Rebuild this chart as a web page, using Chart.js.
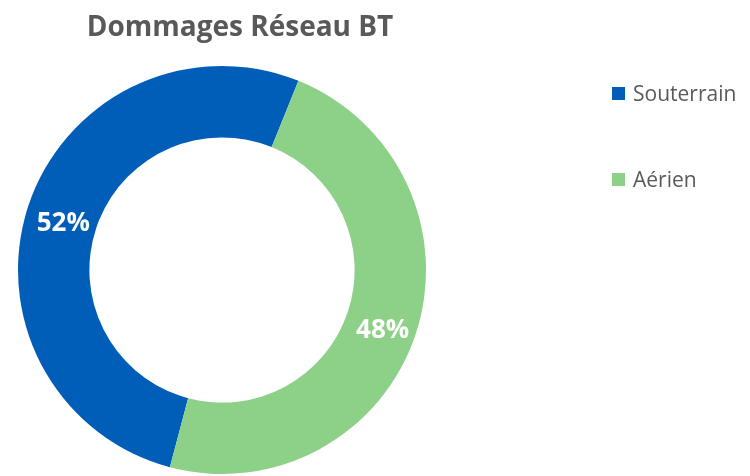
<!DOCTYPE html>
<html>
<head>
<meta charset="utf-8">
<script src="https://cdn.jsdelivr.net/npm/chart.js@4.4.1/dist/chart.umd.min.js"></script>
<style>
  body { margin: 0; background: #fff; font-family: "Open Sans", sans-serif; }
  #wrap { position: relative; width: 750px; height: 476px; }
  #title { position: absolute; left: 0; width: 480px; top: 6px; text-align: center;
           font-weight: bold; font-size: 28px; color: #595959; }
  #legend { position: absolute; left: 612px; top: 78px; font-size: 21px; color: #595959; }
  .item { display: flex; align-items: center; height: 30px; margin-bottom: 56px; }
  .box { width: 13px; height: 13px; margin-right: 8px; }
</style>
</head>
<body>
<div id="wrap">
  <canvas id="chart" width="750" height="476"></canvas>
  <div id="title"></div>
  <div id="legend"></div>
</div>
<script>
const TITLE = 'Dommages Réseau BT';
const categories = ['Souterrain', 'Aérien'];
const values = [52, 48];
const colors = ['#005EB8', '#8DD088'];

document.getElementById('title').textContent = TITLE;
let legendHtml = '';
categories.forEach((name, i) => {
    legendHtml += '<div class="item"><span class="box" style="background:' + colors[i] + '"></span>' + name + '</div>';
});
document.getElementById('legend').innerHTML = legendHtml;

// draws the percentage inside each slice
const sliceLabels = {
    id: 'sliceLabels',
    afterDatasetsDraw(chart) {
        const ctx = chart.ctx;
        const meta = chart.getDatasetMeta(0);
        ctx.save();
        ctx.fillStyle = '#ffffff';
        ctx.font = 'bold 26px "Open Sans"';
        ctx.textAlign = 'center';
        ctx.textBaseline = 'middle';
        meta.data.forEach((arc, i) => {
            const pos = arc.tooltipPosition();
            ctx.fillText(values[i] + '%', pos.x + 1, pos.y + 7);
        });
        ctx.restore();
    }
};

new Chart(document.getElementById('chart'), {
    type: 'doughnut',
    data: {
        labels: categories,
        datasets: [{
            data: values,
            backgroundColor: colors,
            borderWidth: 0
        }]
    },
    options: {
        responsive: false,
        animation: false,
        rotation: 194.8,
        cutout: '65%',
        layout: { padding: { top: 66, right: 306, bottom: 2, left: 0 } },
        plugins: {
            legend: { display: false },
            title: { display: false },
            tooltip: { enabled: false }
        }
    },
    plugins: [sliceLabels]
});
</script>
</body>
</html>
